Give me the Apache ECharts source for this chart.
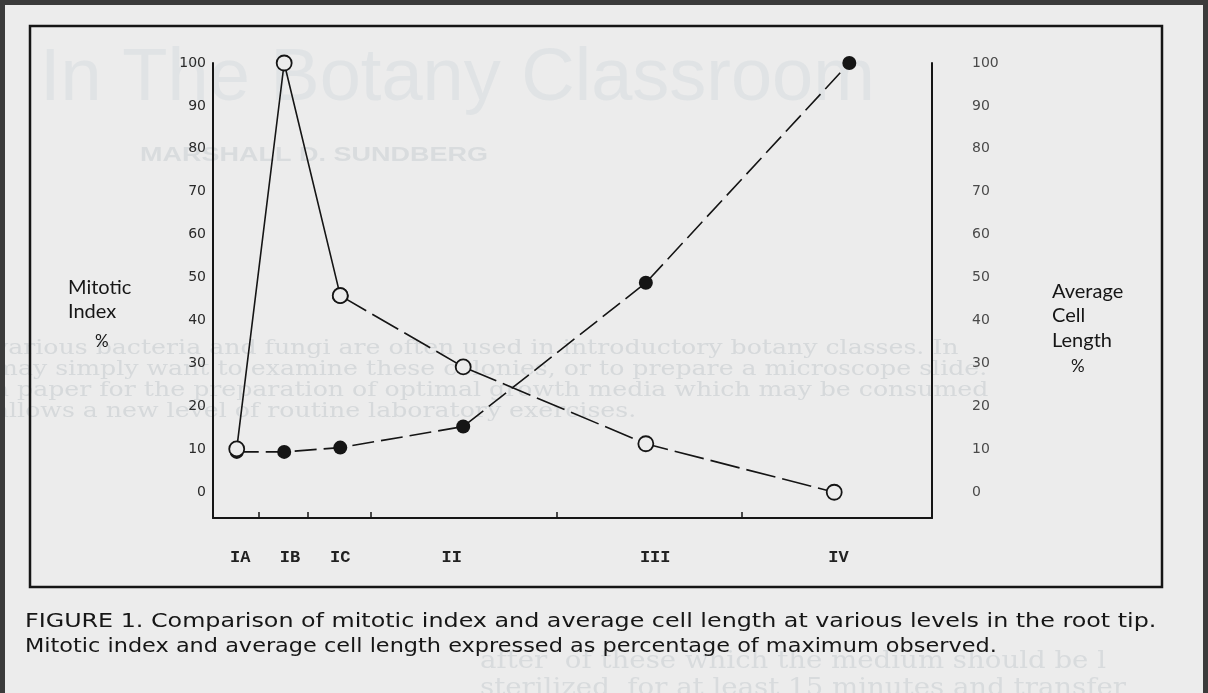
<!DOCTYPE html>
<html>
<head>
<meta charset="utf-8">
<script src="https://cdn.jsdelivr.net/npm/echarts@6/dist/echarts.min.js"></script>
<style>
html,body{margin:0;padding:0;background:#ececec;}
#c{width:1208px;height:693px;}
</style>
</head>
<body>
<div id="c"></div>
<script>
// ---- data ----
const levels = ['IA', 'IB', 'IC', 'II', 'III', 'IV'];
// position of each root-tip level along the (unscaled) distance axis, 0..100
const levelLabelX = [3.8, 10.7, 17.7, 33.2, 61.5, 87.0];
const zoneBounds = [6.4, 13.2, 22.0, 47.8, 73.6];
const mitoticX = [3.3, 9.9, 17.7, 34.8, 60.2, 86.4];
const mitoticIndex = [10.1, 100, 45.8, 29.2, 11.3, 0];
const cellX = [3.3, 9.9, 17.7, 34.8, 60.2, 88.5];
const cellLength = [9.4, 9.4, 10.4, 15.3, 48.8, 100];
const yTicks = [0, 10, 20, 30, 40, 50, 60, 70, 80, 90, 100];

const pts = (xs, ys) => xs.map((x, i) => [x, ys[i]]);
const mitoticPts = pts(mitoticX, mitoticIndex);
const cellPts = pts(cellX, cellLength);

const ink = '#151515';

function nearestLevel(v) {
  let best = 0;
  levelLabelX.forEach((x, i) => { if (Math.abs(x - v) < Math.abs(levelLabelX[best] - v)) best = i; });
  return levels[best];
}

const chart = echarts.init(document.getElementById('c'), null, {renderer: 'canvas'});

const ghostText = (x, y, text, font, color, sx) => ({
  type: 'text', x: x, y: y, scaleX: sx || 1, silent: true, z: -10,
  style: {text: text, fill: color, font: font, textVerticalAlign: 'middle'}
});
const plainText = (x, y, text, font, sx) => ({
  type: 'text', x: x, y: y, scaleX: sx || 1, z: 20,
  style: {text: text, fill: '#161616', font: font, textVerticalAlign: 'middle'}
});

chart.setOption({
  backgroundColor: '#ececec',
  animation: false,
  grid: {left: 213, right: 276, top: 63, bottom: 175, outerBoundsMode: 'none'},
  xAxis: {
    type: 'value', min: 0, max: 100,
    axisLine: {show: true, onZero: false, lineStyle: {color: ink, width: 2}},
    axisTick: {show: true, inside: true, length: 6, customValues: zoneBounds, lineStyle: {color: ink, width: 1.5}},
    axisLabel: {
      customValues: levelLabelX, margin: 31,
      formatter: v => nearestLevel(v),
      color: '#222', fontFamily: '"Liberation Mono", monospace', fontSize: 17, fontWeight: 'bold'
    },
    splitLine: {show: false}
  },
  yAxis: [
    {
      type: 'value', min: -6, max: 100, position: 'left',
      axisLine: {show: true, onZero: false, lineStyle: {color: ink, width: 2}},
      axisTick: {show: false},
      axisLabel: {customValues: yTicks, margin: 7, color: '#2a2a2a', fontFamily: '"DejaVu Sans", sans-serif', fontSize: 14},
      splitLine: {show: false}
    },
    {
      type: 'value', min: -6, max: 100, position: 'right',
      axisLine: {show: true, onZero: false, lineStyle: {color: ink, width: 2}},
      axisTick: {show: false},
      axisLabel: {customValues: yTicks, margin: 40, color: '#4a4a4a', fontFamily: '"DejaVu Sans", sans-serif', fontSize: 14},
      splitLine: {show: false}
    }
  ],
  series: [
    {
      name: 'Average cell length', type: 'line', yAxisIndex: 1, z: 2,
      data: cellPts,
      symbol: 'circle', symbolSize: 14,
      itemStyle: {color: ink},
      lineStyle: {color: ink, width: 1.6, type: [22, 7]}
    },
    {
      name: 'Mitotic index (IA-IC)', type: 'line', yAxisIndex: 0, z: 3,
      data: mitoticPts.slice(0, 3),
      symbol: 'circle', symbolSize: 15,
      itemStyle: {color: '#ececec', borderColor: ink, borderWidth: 1.8},
      lineStyle: {color: ink, width: 1.6, type: 'solid'}
    },
    {
      name: 'Mitotic index (IC-IV)', type: 'line', yAxisIndex: 0, z: 3,
      data: mitoticPts.slice(2),
      symbol: 'circle', symbolSize: 15,
      itemStyle: {color: '#ececec', borderColor: ink, borderWidth: 1.8},
      lineStyle: {color: ink, width: 1.6, type: [30, 7]}
    }
  ],
  graphic: [
    // faint bleed-through from the scanned page
    ghostText(40, 80, 'In The Botany Classroom', '74px "Liberation Sans", sans-serif', '#e0e3e5', 1.0),
    ghostText(140, 155, 'MARSHALL D. SUNDBERG', 'bold 20px "Liberation Sans", sans-serif', '#d9dcde', 1.35),
    ghostText(-6, 349, 'various bacteria and fungi are often used in introductory botany classes. In', '21px "DejaVu Serif", serif', '#d6d9db', 1.2),
    ghostText(-6, 370, 'may simply want to examine these colonies, or to prepare a microscope slide.', '21px "DejaVu Serif", serif', '#d6d9db', 1.2),
    ghostText(-6, 391, 'a paper for the preparation of optimal growth media which may be consumed', '21px "DejaVu Serif", serif', '#d6d9db', 1.2),
    ghostText(-6, 412, 'allows a new level of routine laboratory exercises.', '21px "DejaVu Serif", serif', '#d6d9db', 1.2),
    ghostText(480, 662, 'after  of these which the medium should be l', '24px "DejaVu Serif", serif', '#d8dbdd', 1.15),
    ghostText(480, 689, 'sterilized  for at least 15 minutes and transfer', '24px "DejaVu Serif", serif', '#d8dbdd', 1.15),
    // scan frame
    {type: 'rect', silent: true, z: 20, shape: {x: 2.5, y: 2.5, width: 1203, height: 700},
      style: {fill: 'none', stroke: '#3b3b3b', lineWidth: 5}},
    // figure box
    {type: 'rect', silent: true, z: 20, shape: {x: 30, y: 26, width: 1132, height: 561},
      style: {fill: 'none', stroke: ink, lineWidth: 2.5}},
    // axis titles
    plainText(68, 288, 'Mitotic', '20px Lato, sans-serif'),
    plainText(68, 312, 'Index', '20px Lato, sans-serif'),
    plainText(95, 342, '%', '17px Lato, sans-serif'),
    plainText(1052, 292, 'Average', '20px Lato, sans-serif'),
    plainText(1052, 316, 'Cell', '20px Lato, sans-serif'),
    plainText(1052, 341, 'Length', '20px Lato, sans-serif'),
    plainText(1071, 367, '%', '17px Lato, sans-serif'),
    // caption
    plainText(25, 622, 'FIGURE 1. Comparison of mitotic index and average cell length at various levels in the root tip.', '20px "DejaVu Sans", sans-serif', 1.19),
    plainText(25, 647, 'Mitotic index and average cell length expressed as percentage of maximum observed.', '20px "DejaVu Sans", sans-serif', 1.12)
  ]
});
</script>
</body>
</html>
